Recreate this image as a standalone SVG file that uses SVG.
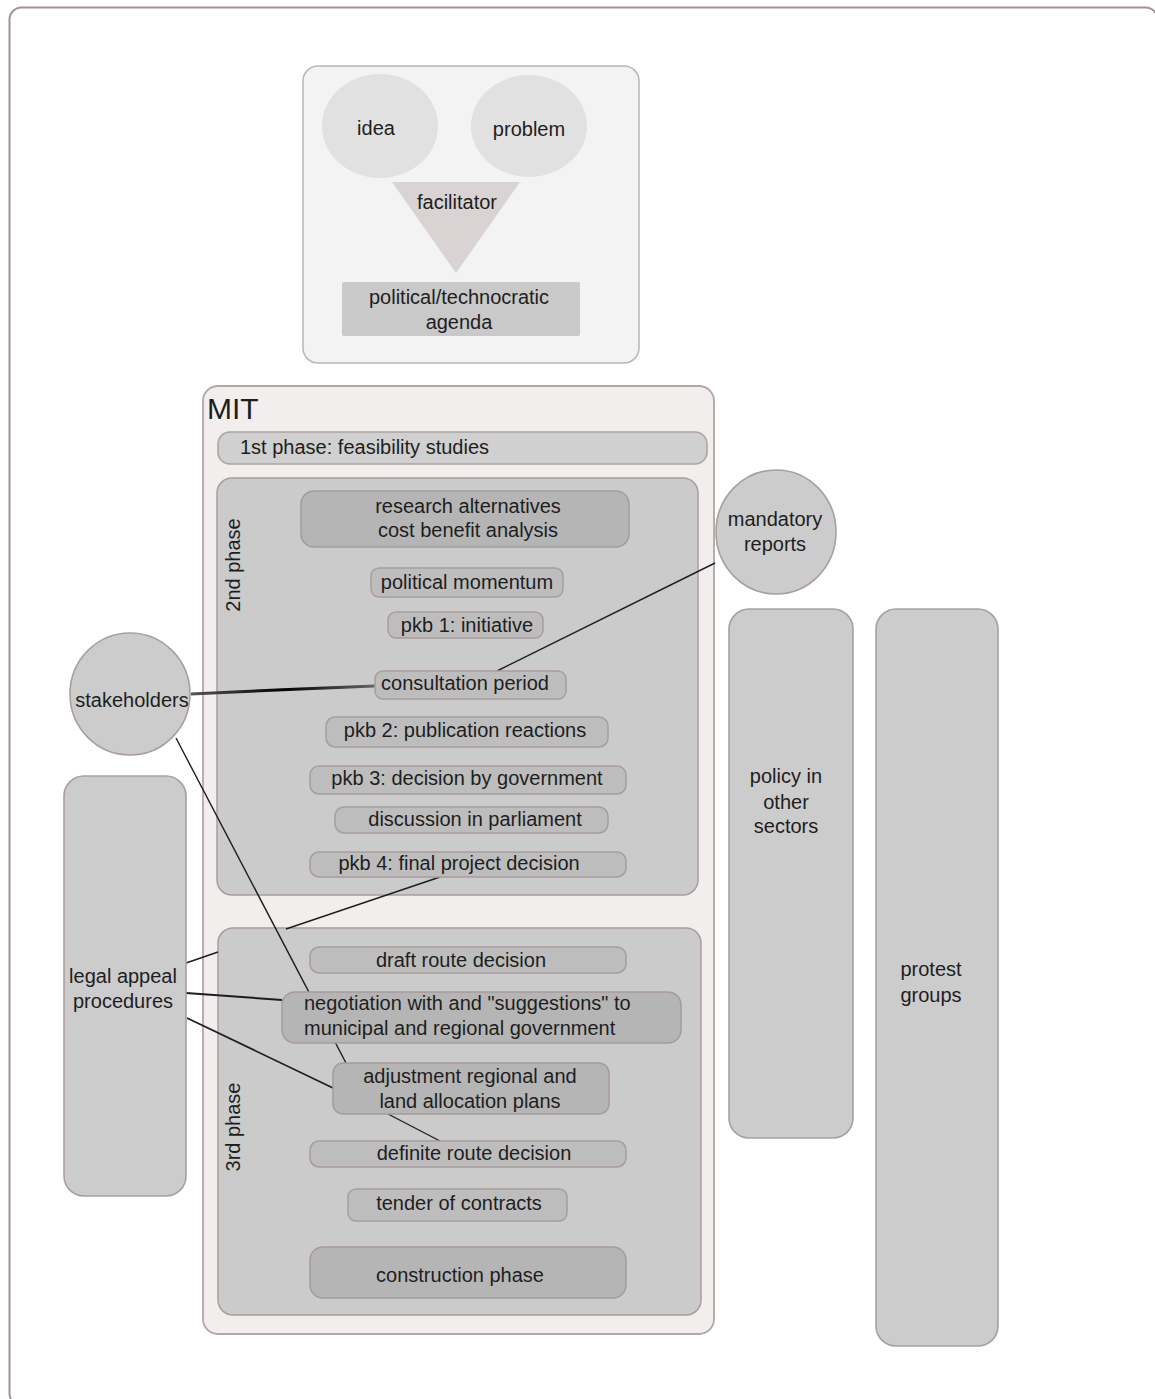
<svg xmlns="http://www.w3.org/2000/svg" width="1155" height="1399" viewBox="0 0 1155 1399">
<style>
text{font-family:"Liberation Sans",Arial,sans-serif;font-size:20px;fill:#1e1e1e}
.c{text-anchor:middle}
.frame{fill:#ffffff;stroke:#a39393;stroke-width:2}
.top{fill:#f3f3f3;stroke:#bfb4b4;stroke-width:1.5}
.mit{fill:#f2eeee;stroke:#b3a6a6;stroke-width:1.8}
.phase{fill:#cbcbcb;stroke:#aa9d9d;stroke-width:1.5}
.item{fill:#bdbdbd;stroke:#aa9c9c;stroke-width:1.5}
.big{fill:#b5b5b5;stroke:#a89a9a;stroke-width:1.5}
.side{fill:#cccccc;stroke:#ab9e9e;stroke-width:1.6}
.ln{stroke:#1e1e1e;stroke-width:1.4;fill:none}
</style>
<defs>
<linearGradient id="g1" x1="191" y1="0" x2="375" y2="0" gradientUnits="userSpaceOnUse">
<stop offset="0" stop-color="#555"/><stop offset="0.5" stop-color="#000"/><stop offset="1" stop-color="#666"/>
</linearGradient>
</defs>
<rect class="frame" x="9.5" y="7.5" width="1148" height="1398" rx="12"/>

<g id="agenda-box">
<rect class="top" x="303" y="66" width="336" height="297" rx="15"/>
</g>
<g id="idea">
<ellipse cx="380" cy="126" rx="58" ry="52" fill="#e1e1e1"/>
<text class="c" x="376" y="135">idea</text>
</g>
<g id="problem">
<ellipse cx="529" cy="126" rx="58" ry="51" fill="#e1e1e1"/>
<text class="c" x="529" y="136">problem</text>
</g>
<g id="facilitator">
<polygon points="392,182 520,182 456,273" fill="#d9d3d3"/>
<text class="c" x="457" y="209">facilitator</text>
</g>
<g id="agenda">
<rect x="342" y="282" width="238" height="54" rx="2" fill="#c9c9c9"/>
<text class="c" x="459" y="304">political/technocratic</text>
<text class="c" x="459" y="329">agenda</text>
</g>

<g id="mit">
<rect class="mit" x="203" y="386" width="511" height="948" rx="15"/>
<text x="207" y="419" style="font-size:30px">MIT</text>
</g>
<g id="phase1">
<rect x="218" y="432" width="489" height="32" rx="12" fill="#d0d0d0" stroke="#ada1a1" stroke-width="1.5"/>
<text x="240" y="454">1st phase: feasibility studies</text>
</g>
<g id="phase2">
<rect class="phase" x="217" y="478" width="481" height="417" rx="15"/>
<text class="c" transform="translate(240,565) rotate(-90)">2nd phase</text>
</g>
<g id="phase3">
<rect class="phase" x="218" y="928" width="483" height="387" rx="15"/>
<text class="c" transform="translate(240,1127) rotate(-90)">3rd phase</text>
</g>

<g id="connectors">
<line class="ln" x1="715" y1="563" x2="497" y2="671"/>
<path d="M191,694 L300,689 L375,686" stroke="url(#g1)" stroke-width="3" fill="none"/>
<line class="ln" x1="176" y1="738" x2="346" y2="1063"/>
<line class="ln" x1="388" y1="1114" x2="440" y2="1141"/>
<line class="ln" x1="186" y1="963" x2="218" y2="952"/>
<line class="ln" x1="286" y1="929" x2="440" y2="877"/>
<line class="ln" x1="186" y1="993" x2="282" y2="1000" style="stroke-width:2"/>
<line class="ln" x1="187" y1="1018" x2="333" y2="1088" style="stroke-width:1.8"/>
</g>

<g id="research">
<rect class="big" x="301" y="491" width="328" height="56" rx="13"/>
<text class="c" x="468" y="513">research alternatives</text>
<text class="c" x="468" y="537">cost benefit analysis</text>
</g>
<g id="political-momentum">
<rect class="item" x="371" y="568" width="192" height="29" rx="8"/>
<text class="c" x="467" y="589">political momentum</text>
</g>
<g id="pkb1">
<rect class="item" x="388" y="612" width="155" height="26" rx="8"/>
<text class="c" x="467" y="632">pkb 1: initiative</text>
</g>
<g id="consultation">
<rect class="item" x="375" y="671" width="191" height="28" rx="8"/>
<text class="c" x="465" y="690">consultation period</text>
</g>
<g id="pkb2">
<rect class="item" x="326" y="717" width="282" height="30" rx="9"/>
<text class="c" x="465" y="737">pkb 2: publication reactions</text>
</g>
<g id="pkb3">
<rect class="item" x="310" y="766" width="316" height="28" rx="9"/>
<text class="c" x="467" y="785">pkb 3: decision by government</text>
</g>
<g id="parliament">
<rect class="item" x="335" y="807" width="273" height="26" rx="9"/>
<text class="c" x="475" y="826">discussion in parliament</text>
</g>
<g id="pkb4">
<rect class="item" x="310" y="852" width="316" height="25" rx="9"/>
<text class="c" x="459" y="870">pkb 4: final project decision</text>
</g>

<g id="draft-route">
<rect class="item" x="310" y="947" width="316" height="26" rx="9"/>
<text class="c" x="461" y="967">draft route decision</text>
</g>
<g id="negotiation">
<rect class="big" x="282" y="992" width="399" height="51" rx="13"/>
<text x="304" y="1010">negotiation with and "suggestions" to</text>
<text x="304" y="1035">municipal and regional government</text>
</g>
<g id="adjustment">
<rect class="big" x="333" y="1063" width="276" height="51" rx="10"/>
<text class="c" x="470" y="1083">adjustment regional and</text>
<text class="c" x="470" y="1108">land allocation plans</text>
</g>
<g id="definite-route">
<rect class="item" x="310" y="1141" width="316" height="26" rx="9"/>
<text class="c" x="474" y="1160">definite route decision</text>
</g>
<g id="tender">
<rect class="item" x="348" y="1189" width="219" height="32" rx="8"/>
<text class="c" x="459" y="1210">tender of contracts</text>
</g>
<g id="construction">
<rect class="big" x="310" y="1247" width="316" height="51" rx="13"/>
<text class="c" x="460" y="1282">construction phase</text>
</g>

<g id="stakeholders">
<ellipse class="side" cx="130" cy="694" rx="60" ry="61"/>
<text class="c" x="132" y="707">stakeholders</text>
</g>
<g id="legal-appeal">
<rect class="side" x="64" y="776" width="122" height="420" rx="20"/>
<text class="c" x="123" y="983">legal appeal</text>
<text class="c" x="123" y="1008">procedures</text>
</g>
<g id="mandatory-reports">
<ellipse class="side" cx="776" cy="532" rx="60" ry="62"/>
<text class="c" x="775" y="526">mandatory</text>
<text class="c" x="775" y="551">reports</text>
</g>
<g id="policy">
<rect class="side" x="729" y="609" width="124" height="529" rx="20"/>
<text class="c" x="786" y="783">policy in</text>
<text class="c" x="786" y="809">other</text>
<text class="c" x="786" y="833">sectors</text>
</g>
<g id="protest">
<rect class="side" x="876" y="609" width="122" height="737" rx="20"/>
<text class="c" x="931" y="976">protest</text>
<text class="c" x="931" y="1002">groups</text>
</g>
</svg>
